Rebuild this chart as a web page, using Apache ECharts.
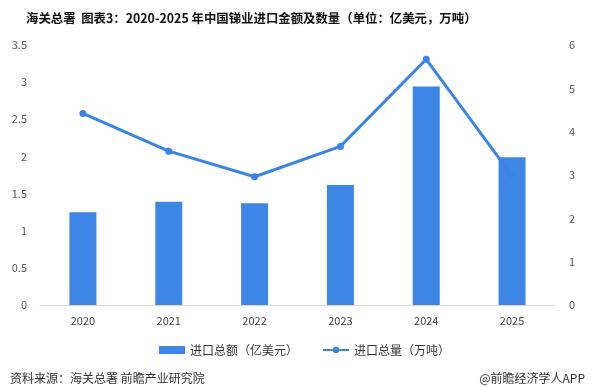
<!DOCTYPE html>
<html><head><meta charset="utf-8">
<script src="https://cdn.jsdelivr.net/npm/echarts@6/dist/echarts.min.js"></script>
<style>html,body{margin:0;padding:0;background:#fff}#c{width:594px;height:387px}</style>
</head><body><div id="c"></div>
<script>
const categories = ['2020','2021','2022','2023','2024','2025'];
const amountValues = [1.25, 1.39, 1.37, 1.615, 2.94, 1.99];
const volumeValues = [4.42, 3.55, 2.96, 3.66, 5.67, 2.98];
const leftTicks = {min:0, max:3.5, interval:0.5};
const rightTicks = {min:0, max:6, interval:1};
const titleText = '海关总署  图表3：2020-2025 年中国锑业进口金额及数量（单位：亿美元，万吨）';
const sourceText = '资料来源：海关总署 前瞻产业研究院';
const brandText = '@前瞻经济学人APP';
const seriesNames = ['进口总额（亿美元）','进口总量（万吨）'];

const chart = echarts.init(document.getElementById('c'));
const blue = '#3a84e6';
chart.setOption({
  animation:false,
  textStyle:{fontFamily:'"Noto Sans CJK SC","Noto Sans",sans-serif'},
  title:[
    {text:titleText,left:21,top:7,textStyle:{fontSize:12.4,fontWeight:'bold',color:'#111'}},
    {text:sourceText,left:5,top:367,textStyle:{fontSize:12,fontWeight:'normal',color:'#333'}},
    {text:brandText,right:4,top:367,textStyle:{fontSize:12,fontWeight:'normal',color:'#333'}}
  ],
  legend:{
    top:339,left:154,itemGap:24,itemWidth:26,itemHeight:8,
    textStyle:{fontSize:12,color:'#333'},
    data:[{name:seriesNames[0],icon:'rect'},{name:seriesNames[1]}]
  },
  grid:{left:40,right:39,top:45,bottom:82},
  xAxis:{
    type:'category',data:categories,
    axisLine:{lineStyle:{color:'#d9d9d9'}},
    axisTick:{show:false},
    axisLabel:{color:'#404040',fontSize:11,margin:10}
  },
  yAxis:[
    {type:'value',min:leftTicks.min,max:leftTicks.max,interval:leftTicks.interval,
     splitLine:{show:false},axisLine:{show:false},axisTick:{show:false},
     axisLabel:{color:'#595959',fontSize:11,margin:13}},
    {type:'value',min:rightTicks.min,max:rightTicks.max,interval:rightTicks.interval,
     splitLine:{show:false},axisLine:{show:false},axisTick:{show:false},
     axisLabel:{color:'#595959',fontSize:11,margin:14}}
  ],
  series:[
    {name:seriesNames[0],type:'bar',data:amountValues,barWidth:27,yAxisIndex:0,z:3,
     itemStyle:{color:blue,opacity:0.98}},
    {name:seriesNames[1],type:'line',data:volumeValues,yAxisIndex:1,z:2,
     symbol:'circle',symbolSize:7,lineStyle:{color:blue,width:3},itemStyle:{color:blue}}
  ]
});
</script></body></html>
